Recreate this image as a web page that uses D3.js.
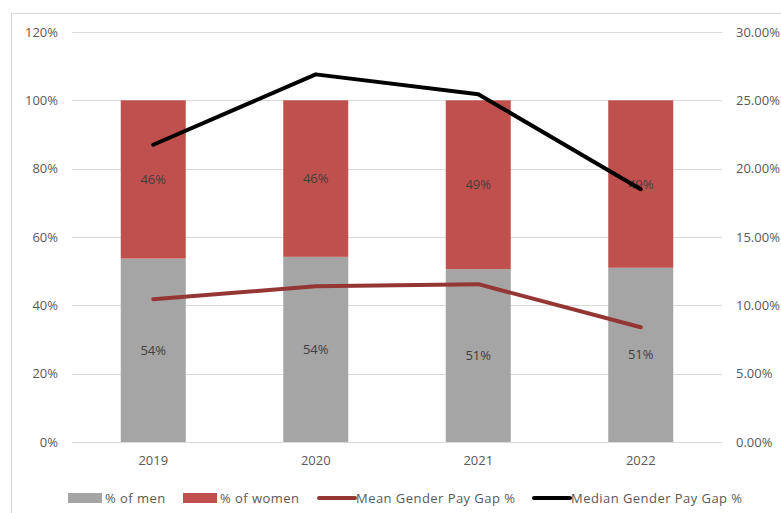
<!DOCTYPE html>
<html>
<head>
<meta charset="utf-8">
<style>
  body { margin:0; background:#fff; }
  text { font-family: "Open Sans", Lato, sans-serif; }
</style>
</head>
<body>
<div id="chart-area"></div>
<script src="https://cdn.jsdelivr.net/npm/d3@7"></script>
<script>
    // data
    var years = ["2019", "2020", "2021", "2022"];
    var menPct = [53.7, 54.2, 50.6, 51.0];
    var womenPct = [46.3, 45.8, 49.4, 49.0];
    var meanGap = [10.45, 11.4, 11.55, 8.4];
    var medianGap = [21.75, 26.9, 25.45, 18.5];
    var leftTicks = [0, 20, 40, 60, 80, 100, 120];
    var rightTicks = [0, 5, 10, 15, 20, 25, 30];

    const width = 781, height = 513;
    const plotLeft = 72, plotRight = 722, plotTop = 32, plotBottom = 442;
    const fs = "13px";

    const svg = d3.select("#chart-area").append("svg")
        .attr("width", width).attr("height", height);

    // chart frame
    svg.append("rect")
        .attr("x", 11.5).attr("y", 13.5)
        .attr("width", 800).attr("height", 520)
        .attr("fill", "none").attr("stroke", "#d9d9d9");

    const x = d3.scaleBand().domain(years).range([plotLeft, plotRight])
        .paddingInner(0.6).paddingOuter(0.3);
    const y = d3.scaleLinear().domain([0, 120]).range([plotBottom, plotTop]);
    const y2 = d3.scaleLinear().domain([0, 30]).range([plotBottom, plotTop]);

    // gridlines
    svg.append("g").selectAll("line").data(leftTicks).join("line")
        .attr("x1", plotLeft).attr("x2", plotRight)
        .attr("y1", d => Math.round(y(d)) + 0.5).attr("y2", d => Math.round(y(d)) + 0.5)
        .attr("stroke", "#d9d9d9");

    // left axis
    const yAxis = svg.append("g").attr("transform", `translate(${plotLeft},0)`)
        .call(d3.axisLeft(y).tickValues(leftTicks).tickSize(0).tickPadding(14).tickFormat(d => d + "%"));
    yAxis.select(".domain").remove();
    yAxis.selectAll("text").attr("fill", "#595959").style("font-size", fs);

    // right axis
    const y2Axis = svg.append("g").attr("transform", `translate(${plotRight},0)`)
        .call(d3.axisRight(y2).tickValues(rightTicks).tickSize(0).tickPadding(14).tickFormat(d => d.toFixed(2) + "%"));
    y2Axis.select(".domain").remove();
    y2Axis.selectAll("text").attr("fill", "#595959").style("font-size", fs);

    // x axis
    const xAxis = svg.append("g").attr("transform", `translate(0,${plotBottom})`)
        .call(d3.axisBottom(x).tickSize(0).tickPadding(14));
    xAxis.select(".domain").attr("stroke", "#d9d9d9");
    xAxis.selectAll("text").attr("fill", "#595959").style("font-size", fs);

    var rows = years.map((yr, i) => ({year: yr, men: menPct[i], women: womenPct[i]}));

    // stacked bars
    svg.append("g").selectAll("rect").data(rows).join("rect")
        .attr("x", d => x(d.year)).attr("width", x.bandwidth())
        .attr("y", d => y(d.men)).attr("height", d => y(0) - y(d.men))
        .attr("fill", "#a5a5a5");
    svg.append("g").selectAll("rect").data(rows).join("rect")
        .attr("x", d => x(d.year)).attr("width", x.bandwidth())
        .attr("y", d => y(d.men + d.women)).attr("height", d => y(d.men) - y(d.men + d.women))
        .attr("fill", "#c0504d");

    // bar labels
    svg.append("g").selectAll("text").data(rows).join("text")
        .attr("x", d => x(d.year) + x.bandwidth() / 2)
        .attr("y", d => y(d.men / 2)).attr("dy", "0.35em")
        .attr("text-anchor", "middle").attr("fill", "#404040").style("font-size", fs)
        .text(d => Math.round(d.men) + "%");
    svg.append("g").selectAll("text").data(rows).join("text")
        .attr("x", d => x(d.year) + x.bandwidth() / 2)
        .attr("y", d => y(d.men + d.women / 2)).attr("dy", "0.35em")
        .attr("text-anchor", "middle").attr("fill", "#404040").style("font-size", fs)
        .text(d => Math.round(d.women) + "%");

    // lines on the secondary axis
    const cx = yr => x(yr) + x.bandwidth() / 2;
    const gapLine = d3.line().x((d, i) => cx(years[i])).y(d => y2(d));
    svg.append("path").datum(meanGap).attr("d", gapLine)
        .attr("fill", "none").attr("stroke", "#943634").attr("stroke-width", 4)
        .attr("stroke-linejoin", "round").attr("stroke-linecap", "round");
    svg.append("path").datum(medianGap).attr("d", gapLine)
        .attr("fill", "none").attr("stroke", "#000").attr("stroke-width", 4)
        .attr("stroke-linejoin", "round").attr("stroke-linecap", "round");

    // legend
    var legendItems = [
        {label: "% of men", type: "rect", color: "#a5a5a5", x: 68},
        {label: "% of women", type: "rect", color: "#c0504d", x: 183},
        {label: "Mean Gender Pay Gap %", type: "line", color: "#943634", x: 318},
        {label: "Median Gender Pay Gap %", type: "line", color: "#000", x: 533}
    ];
    const lg = svg.append("g").selectAll("g").data(legendItems).join("g")
        .attr("transform", d => `translate(${d.x},498)`);
    lg.filter(d => d.type == "rect").append("rect")
        .attr("x", 0).attr("y", -5).attr("width", 34).attr("height", 10)
        .attr("fill", d => d.color);
    lg.filter(d => d.type == "line").append("line")
        .attr("x1", 1).attr("x2", 37).attr("y1", 0).attr("y2", 0)
        .attr("stroke", d => d.color).attr("stroke-width", 4).attr("stroke-linecap", "round");
    lg.append("text")
        .attr("x", d => d.type == "rect" ? 37 : 38).attr("dy", "0.35em")
        .attr("fill", "#595959").style("font-size", fs).style("letter-spacing", "0.45px")
        .text(d => d.label);
</script>
</body>
</html>
